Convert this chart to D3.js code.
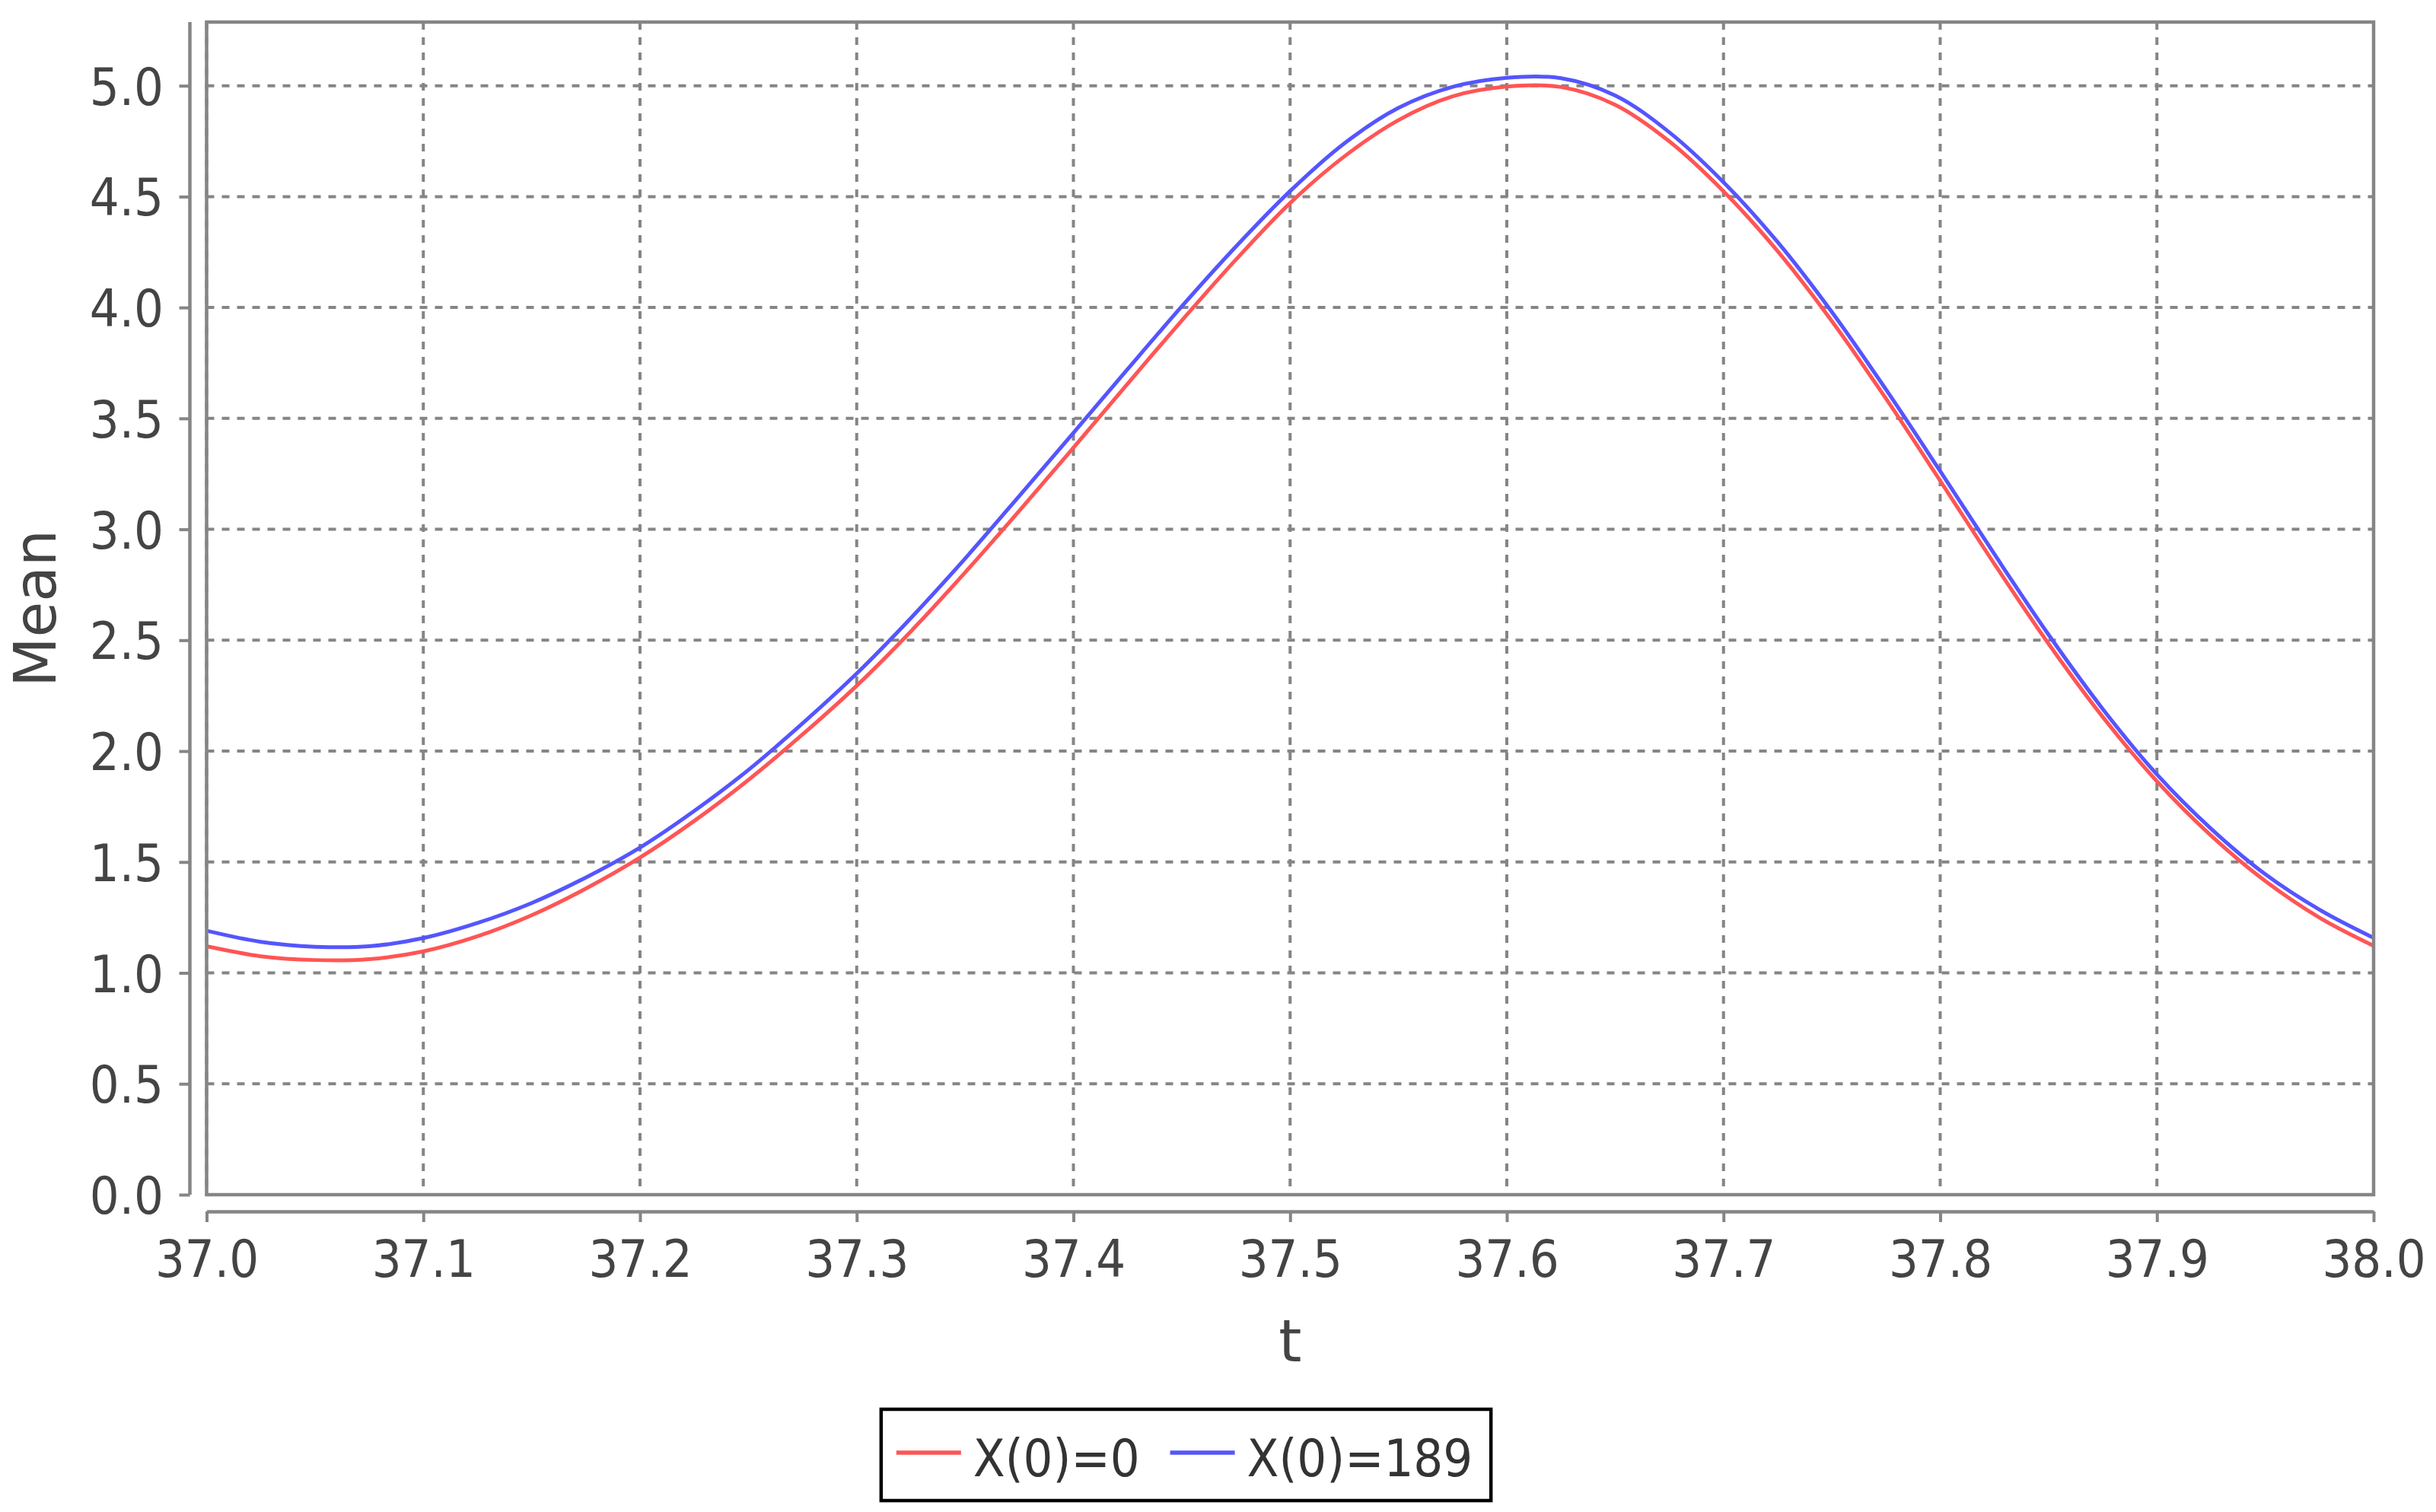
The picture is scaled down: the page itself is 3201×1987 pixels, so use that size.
<!DOCTYPE html>
<html>
<head>
<meta charset="utf-8">
<script src="https://cdn.jsdelivr.net/npm/d3@7/dist/d3.min.js"></script>
<style>
  html, body { margin: 0; padding: 0; background: #fff; }
  svg { display: block; }
</style>
</head>
<body>
<svg id="chart" width="3201" height="1987"></svg>
<script>
// ---------------- data ----------------
const tValues = [37.000, 37.025, 37.050, 37.075, 37.100, 37.125, 37.150, 37.175, 37.200, 37.225,
                 37.250, 37.275, 37.300, 37.325, 37.350, 37.375, 37.400, 37.425, 37.450, 37.475,
                 37.500, 37.525, 37.550, 37.575, 37.600, 37.625, 37.650, 37.675, 37.700, 37.725,
                 37.750, 37.775, 37.800, 37.825, 37.850, 37.875, 37.900, 37.925, 37.950, 37.975, 38.000];
const meanX0_0 = [1.120, 1.075, 1.058, 1.062, 1.097, 1.165, 1.260, 1.380, 1.520, 1.685,
                  1.870, 2.075, 2.295, 2.540, 2.805, 3.083, 3.368, 3.656, 3.941, 4.216,
                  4.471, 4.681, 4.845, 4.952, 4.996, 4.994, 4.914, 4.749, 4.524, 4.254,
                  3.939, 3.589, 3.219, 2.844, 2.484, 2.154, 1.864, 1.619, 1.414, 1.249, 1.122];
const meanX0_189 = [1.190, 1.140, 1.118, 1.120, 1.157, 1.225, 1.315, 1.430, 1.565, 1.730,
                    1.915, 2.125, 2.350, 2.600, 2.868, 3.150, 3.435, 3.722, 4.005, 4.275,
                    4.525, 4.740, 4.900, 4.995, 5.036, 5.034, 4.956, 4.790, 4.565, 4.295,
                    3.980, 3.630, 3.262, 2.888, 2.525, 2.190, 1.895, 1.650, 1.445, 1.285, 1.158];
const seriesNames = ["X(0)=0", "X(0)=189"];
const seriesColors = ["#ff5555", "#5555ff"];
const xTicks = [37.0, 37.1, 37.2, 37.3, 37.4, 37.5, 37.6, 37.7, 37.8, 37.9, 38.0];
const yTicks = [0.0, 0.5, 1.0, 1.5, 2.0, 2.5, 3.0, 3.5, 4.0, 4.5, 5.0];
const xDomain = [37.0, 38.0];
const yDomain = [0.0, 5.287];
const xLabel = "t";
const yLabel = "Mean";

// ---------------- layout ----------------
const plot = { left: 271.5, right: 3119, top: 29, bottom: 1570 };
const axisGap = 22;
const tickFont = "'DejaVu Sans Condensed', 'DejaVu Sans', sans-serif";
const gray = "#858585";
const textColor = "#444444";

const svg = d3.select("#chart");
const x = d3.scaleLinear().domain(xDomain).range([plot.left, plot.right]);
const y = d3.scaleLinear().domain(yDomain).range([plot.bottom, plot.top]);

// plot background
svg.append("rect")
  .attr("x", plot.left).attr("y", plot.top)
  .attr("width", plot.right - plot.left).attr("height", plot.bottom - plot.top)
  .attr("fill", "#ffffff");

// gridlines
const grid = svg.append("g");
grid.selectAll("line.gx").data(xTicks).join("line")
  .attr("x1", d => x(d)).attr("x2", d => x(d))
  .attr("y1", plot.top).attr("y2", plot.bottom)
  .attr("stroke", gray).attr("stroke-width", 4).attr("stroke-dasharray", "10,10");
grid.selectAll("line.gy").data(yTicks).join("line")
  .attr("x1", plot.left).attr("x2", plot.right)
  .attr("y1", d => y(d)).attr("y2", d => y(d))
  .attr("stroke", gray).attr("stroke-width", 4).attr("stroke-dasharray", "10,10");

// series
const allSeries = [meanX0_0, meanX0_189];
const line = d3.line().x(d => x(d[0])).y(d => y(d[1])).curve(d3.curveCatmullRom.alpha(0.5));
svg.append("defs").append("clipPath").attr("id", "clip")
  .append("rect").attr("x", plot.left).attr("y", plot.top)
  .attr("width", plot.right - plot.left).attr("height", plot.bottom - plot.top);
const sg = svg.append("g").attr("clip-path", "url(#clip)");
allSeries.forEach((vals, i) => {
  sg.append("path")
    .datum(tValues.map((t, k) => [t, vals[k]]))
    .attr("d", line)
    .attr("fill", "none")
    .attr("stroke", seriesColors[i])
    .attr("stroke-width", 5);
});

// plot outline
svg.append("rect")
  .attr("x", plot.left).attr("y", plot.top)
  .attr("width", plot.right - plot.left).attr("height", plot.bottom - plot.top)
  .attr("fill", "none").attr("stroke", gray).attr("stroke-width", 4.5);

// x axis
const xAxis = d3.axisBottom(x).tickValues(xTicks).tickFormat(d3.format(".1f"))
  .tickSizeInner(14).tickSizeOuter(0).tickPadding(20);
const gx = svg.append("g").attr("transform", `translate(0,${plot.bottom + axisGap})`).call(xAxis);
gx.select(".domain").attr("stroke", gray).attr("stroke-width", 4.5);
gx.selectAll(".tick line").attr("stroke", gray).attr("stroke-width", 4);
gx.selectAll(".tick text")
  .attr("font-family", tickFont).attr("font-size", 68).attr("fill", textColor)
  .attr("dy", null)
  .attr("y", 1678 - (plot.bottom + axisGap));

// y axis
const yAxis = d3.axisLeft(y).tickValues(yTicks).tickFormat(d3.format(".1f"))
  .tickSizeInner(14).tickSizeOuter(0).tickPadding(20);
const gy = svg.append("g").attr("transform", `translate(${plot.left - axisGap},0)`).call(yAxis);
gy.select(".domain").attr("stroke", gray).attr("stroke-width", 4.5)
  .attr("d", `M0,${plot.top}V${plot.bottom}`);
gy.selectAll(".tick line").attr("stroke", gray).attr("stroke-width", 4);
gy.selectAll(".tick text")
  .attr("font-family", tickFont).attr("font-size", 68).attr("fill", textColor)
  .attr("x", 215 - (plot.left - axisGap))
  .attr("dy", "0.36em");

// axis labels
svg.append("text")
  .attr("x", (plot.left + plot.right) / 2).attr("y", 1789)
  .attr("text-anchor", "middle")
  .attr("font-family", "'DejaVu Sans', sans-serif").attr("font-size", 77)
  .attr("fill", textColor).text(xLabel);
svg.append("text")
  .attr("transform", `translate(73,${(plot.top + plot.bottom) / 2}) rotate(-90)`)
  .attr("text-anchor", "middle")
  .attr("font-family", "'DejaVu Sans', sans-serif").attr("font-size", 76)
  .attr("fill", textColor).text(yLabel);

// legend
const legend = svg.append("g");
const legBox = legend.append("rect").attr("fill", "#fff").attr("stroke", "#000").attr("stroke-width", 4.5);
const sampleLen = 85, sampleGap = 16, itemGap = 40, padL = 20, padR = 24;
const legY = 1909, legBase = 1940;
const items = [];
seriesNames.forEach((name, i) => {
  const g = legend.append("g");
  g.append("line").attr("x1", 0).attr("x2", sampleLen).attr("y1", legY).attr("y2", legY)
    .attr("stroke", seriesColors[i]).attr("stroke-width", 5.5);
  const t = g.append("text").attr("x", sampleLen + sampleGap).attr("y", legBase)
    .attr("font-family", tickFont).attr("font-size", 68).attr("fill", "#333")
    .text(name);
  const w = sampleLen + sampleGap + t.node().getComputedTextLength();
  items.push({ g, w });
});
const totalW = padL + items.reduce((s, it) => s + it.w, 0) + itemGap * (items.length - 1) + padR;
const legCenter = 1558.5;
const lx = legCenter - totalW / 2;
legBox.attr("x", lx).attr("y", 1852).attr("width", totalW).attr("height", 120);
let cursor = lx + padL;
items.forEach(it => { it.g.attr("transform", `translate(${cursor},0)`); cursor += it.w + itemGap; });
</script>
</body>
</html>
